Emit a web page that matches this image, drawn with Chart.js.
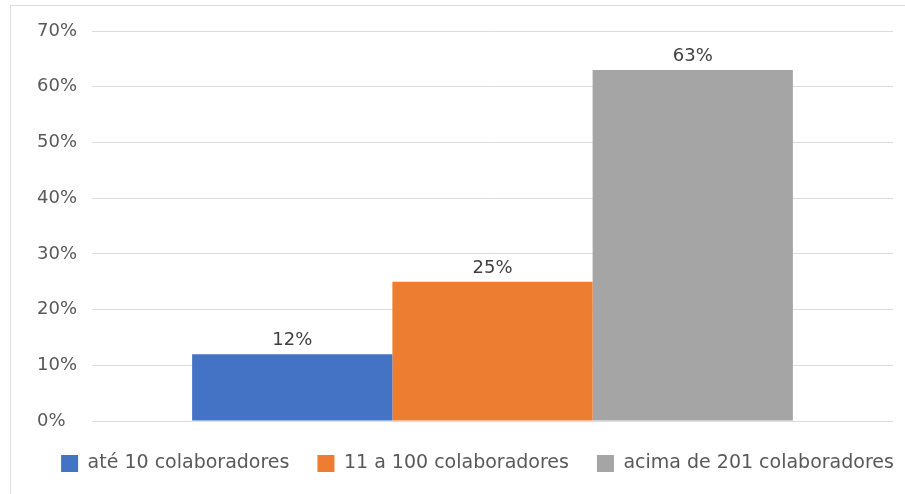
<!DOCTYPE html>
<html>
<head>
<meta charset="utf-8">
<script src="https://cdn.jsdelivr.net/npm/chart.js@4"></script>
<style>
  html, body { margin: 0; padding: 0; background: #fff; }
  #wrap { position: relative; width: 905px; height: 494px; }
</style>
</head>
<body>
<div id="wrap"><canvas id="porte"></canvas></div>
<script>
"use strict";

// Dados do gráfico
const faixas = ["até 10 colaboradores", "11 a 100 colaboradores", "acima de 201 colaboradores"];
const percentuais = [12, 25, 63];
const cores = ["#4472c4", "#ed7d31", "#a5a5a5"];
const ticksY = [0, 10, 20, 30, 40, 50, 60, 70];

const fonte = "'DejaVu Sans', sans-serif";

// Moldura clara em volta do gráfico
const moldura = {
    id: "moldura",
    beforeDraw(chart) {
        const ctx = chart.ctx;
        ctx.save();
        ctx.strokeStyle = "#dedede";
        ctx.lineWidth = 1;
        ctx.strokeRect(10.5, 5.5, chart.width + 20, chart.height + 20);
        ctx.restore();
    }
};

// Ajustes finos: rótulos do eixo Y alinhados à esquerda em x=37,
// legenda um pouco para a direita e para baixo
const ajustes = {
    id: "ajustes",
    afterLayout(chart) {
        chart.scales.y.left = 37;
        const leg = chart.legend;
        leg.left += 31;
        leg.right += 31;
        leg.top += 5;
        leg.bottom += 5;
    }
};

// Rótulos de valor acima de cada barra
const rotulos = {
    id: "rotulos",
    afterDatasetsDraw(chart) {
        const ctx = chart.ctx;
        ctx.save();
        ctx.font = "18px " + fonte;
        ctx.fillStyle = "#404040";
        ctx.textAlign = "center";
        ctx.textBaseline = "alphabetic";
        chart.data.datasets.forEach((ds, i) => {
            const barra = chart.getDatasetMeta(i).data[0];
            ctx.fillText(ds.data[0] + "%", barra.x, barra.y - 9);
        });
        ctx.restore();
    }
};

const canvas = document.getElementById("porte");

new Chart(canvas, {
    type: "bar",
    data: {
        labels: [""],
        datasets: faixas.map((nome, i) => ({
            label: nome,
            data: [percentuais[i]],
            backgroundColor: cores[i],
            categoryPercentage: 0.75,
            barPercentage: 1.0
        }))
    },
    options: {
        responsive: true,
        maintainAspectRatio: false,
        animation: false,
        layout: {
            padding: { left: 0, right: 12, top: 31, bottom: 16 }
        },
        scales: {
            x: {
                display: false
            },
            y: {
                min: 0,
                max: 70,
                afterBuildTicks(scale) {
                    scale.ticks = ticksY.map(v => ({ value: v }));
                },
                afterFit(scale) {
                    scale.width = 92;
                },
                border: { display: false },
                grid: { color: "#dcdcdc", drawTicks: false },
                ticks: {
                    crossAlign: "far",
                    padding: 14,
                    color: "#595959",
                    font: { family: fonte, size: 18 },
                    callback: v => v + "%"
                }
            }
        },
        plugins: {
            legend: {
                position: "bottom",
                labels: {
                    boxWidth: 17,
                    boxHeight: 17,
                    color: "#595959",
                    padding: 28,
                    font: { family: fonte, size: 19 }
                }
            },
            tooltip: { enabled: false }
        }
    },
    plugins: [moldura, ajustes, rotulos]
});
</script>
</body>
</html>
